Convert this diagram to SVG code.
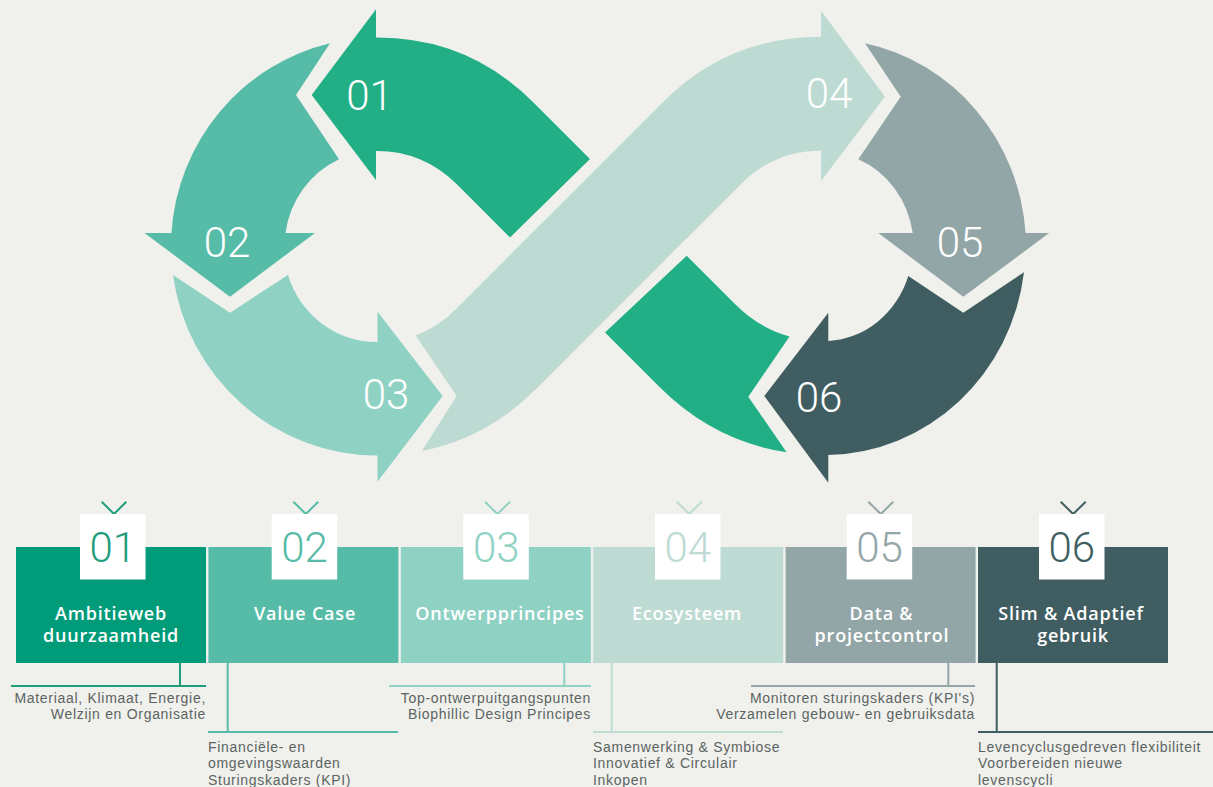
<svg xmlns="http://www.w3.org/2000/svg" width="1213" height="787" viewBox="0 0 1213 787">
<style>
.lbl{font-family:Roboto,"Open Sans",sans-serif;font-weight:300;font-size:42px;fill:#fff;text-anchor:middle}
.num{font-family:Roboto,"Open Sans",sans-serif;font-weight:300;font-size:42px;text-anchor:middle}
.ttl{font-family:"Open Sans","Noto Sans",sans-serif;font-weight:600;font-size:18px;fill:#fff;text-anchor:middle;letter-spacing:0.8px}
.dsc{font-family:"Liberation Sans",Arial,sans-serif;font-size:14px;fill:#5b6463;letter-spacing:0.7px}
.end{text-anchor:end}
.sq{fill:#fff}
.chev{fill:none;stroke-width:2}
.ln{fill:none;stroke-width:2}
</style>
<rect width="1213" height="787" fill="#f0f0ec"/>

<g id="infinity">
  <g id="arrow-01">
    <path fill="#23af86" d="M311.7,95 L376,9.3 L376,37.5 L377,37.5 Q468.5,37.5 533.2,102.2 L590,159 L510,237.5 L457.1,184.6 Q423.5,151 377,151 L376,151 L376,180 Z"/>
    <path fill="#23af86" d="M686.7,255.7 L735.2,304.2 Q759.1,328.1 789.5,336.5 L748.3,396.7 L786.6,452.3 Q713.9,441.4 659.3,386.8 L605,332.5 Z"/>
    <text class="lbl" x="369.5" y="110">01</text>
  </g>
  <g id="arrow-02">
    <path fill="#56bca7" d="M330,43.3 L296,95 L339,159.3 A93 95.5 0 0 0 285.5,233 L315,233 L230,296.7 L144.5,233 L171.4,233 A206.5 209 0 0 1 330,43.3 Z"/>
    <text class="lbl" x="227" y="257">02</text>
  </g>
  <g id="arrow-03">
    <path fill="#8fd2c4" d="M173,275 L230,312.7 L288,275 A93 95.5 0 0 0 377.5,342 L377.5,311.7 L442.7,396 L377.5,481.7 L377.5,455.5 A206.5 209 0 0 1 173,275 Z"/>
    <text class="lbl" x="386" y="409">03</text>
  </g>
  <g id="arrow-04">
    <path fill="#bddbd3" d="M415.6,335.4 Q437.6,327.4 455.5,309.5 L662.8,102.2 Q728.3,36.7 821,36.7 L821,10.7 L885,96.7 L821,181 L821,150.7 Q774.3,150.7 741.3,183.7 L535.8,389.2 Q486.5,438.5 421.8,450.9 L456.7,396 Z"/>
    <text class="lbl" x="829" y="108">04</text>
  </g>
  <g id="arrow-05">
    <path fill="#93a6a7" d="M865,43.3 L900.7,96.7 L858.3,159.3 A89 95 0 0 1 912.7,233 L878.3,233 L963.3,296.7 L1049.3,233 L1025.6,233 A201.5 209 0 0 0 865,43.3 Z"/>
    <text class="lbl" x="960" y="257">05</text>
  </g>
  <g id="arrow-06">
    <path fill="#405e61" d="M1024,272.3 L963.3,312.7 L908.3,276 A89 95 0 0 1 828.3,341 L828.3,312.7 L764.3,396 L828.3,482.7 L828.3,455 A201.5 209 0 0 0 1024,272.3 Z"/>
    <text class="lbl" x="819" y="412">06</text>
  </g>
</g>

<g id="connectors">
  <path class="ln" stroke="#1f9d7b" d="M180,663 V686 M11,686 H206"/>
  <path class="ln" stroke="#56bca7" d="M227.7,663 V732 M208,732 H398"/>
  <path class="ln" stroke="#8fd2c4" d="M564.3,663 V686 M389,686 H591"/>
  <path class="ln" stroke="#bddbd3" d="M611.7,663 V732 M593,732 H783"/>
  <path class="ln" stroke="#93a6a7" d="M948.3,663 V686 M751,686 H975"/>
  <path class="ln" stroke="#405e61" d="M996.7,663 V732 M978,732 H1213"/>
</g>

<g id="node-01">
  <rect x="16" y="547" width="190" height="116" fill="#009b78"/>
  <polyline class="chev" stroke="#1f9d7b" points="101.7,501.7 114,514 126.3,501.7"/>
  <rect class="sq" x="80" y="514" width="65.5" height="65.5"/>
  <text class="num" x="112.7" y="562" fill="#1f9d7b">01</text>
  <text class="ttl" x="111" y="620">Ambitieweb</text>
  <text class="ttl" x="111" y="641.7">duurzaamheid</text>
  <text class="dsc end" x="206" y="702.7">Materiaal, Klimaat, Energie,</text>
  <text class="dsc end" x="206" y="719.3">Welzijn en Organisatie</text>
</g>
<g id="node-02">
  <rect x="208.4" y="547" width="190" height="116" fill="#56bca7"/>
  <polyline class="chev" stroke="#56bca7" points="293.3,501.7 305.8,514 318.3,501.7"/>
  <rect class="sq" x="271.7" y="514" width="65.5" height="65.5"/>
  <text class="num" x="304.5" y="562" fill="#56bca7">02</text>
  <text class="ttl" x="305" y="620">Value Case</text>
  <text class="dsc" x="208" y="751.7">Financiële- en</text>
  <text class="dsc" x="208" y="768.3">omgevingswaarden</text>
  <text class="dsc" x="208" y="784.5">Sturingskaders (KPI)</text>
</g>
<g id="node-03">
  <rect x="400.8" y="547" width="190" height="116" fill="#8fd2c4"/>
  <polyline class="chev" stroke="#8fd2c4" points="485,501.7 497.5,514 510,501.7"/>
  <rect class="sq" x="463.3" y="514" width="65.5" height="65.5"/>
  <text class="num" x="496.2" y="562" fill="#8fd2c4">03</text>
  <text class="ttl" x="500" y="620">Ontwerpprincipes</text>
  <text class="dsc end" x="591" y="702.7">Top-ontwerpuitgangspunten</text>
  <text class="dsc end" x="591" y="719.3">Biophillic Design Principes</text>
</g>
<g id="node-04">
  <rect x="593.2" y="547" width="190" height="116" fill="#bddbd3"/>
  <polyline class="chev" stroke="#bddbd3" points="676.7,501.7 689.2,514 701.7,501.7"/>
  <rect class="sq" x="655" y="514" width="65.5" height="65.5"/>
  <text class="num" x="687.8" y="562" fill="#bddbd3">04</text>
  <text class="ttl" x="687" y="620">Ecosysteem</text>
  <text class="dsc" x="593" y="751.7">Samenwerking &amp; Symbiose</text>
  <text class="dsc" x="593" y="768.3">Innovatief &amp; Circulair</text>
  <text class="dsc" x="593" y="784.5">Inkopen</text>
</g>
<g id="node-05">
  <rect x="785.6" y="547" width="190" height="116" fill="#93a6a7"/>
  <polyline class="chev" stroke="#93a6a7" points="868.3,501.7 880.8,514 893.3,501.7"/>
  <rect class="sq" x="846.7" y="514" width="65.5" height="65.5"/>
  <text class="num" x="879.5" y="562" fill="#93a6a7">05</text>
  <text class="ttl" x="881.5" y="620">Data &amp;</text>
  <text class="ttl" x="882" y="641.7">projectcontrol</text>
  <text class="dsc end" x="975" y="702.7">Monitoren sturingskaders (KPI's)</text>
  <text class="dsc end" x="975" y="719.3">Verzamelen gebouw- en gebruiksdata</text>
</g>
<g id="node-06">
  <rect x="978" y="547" width="190" height="116" fill="#405e61"/>
  <polyline class="chev" stroke="#405e61" points="1060.7,501.7 1073.2,514 1085.7,501.7"/>
  <rect class="sq" x="1039" y="514" width="65.5" height="65.5"/>
  <text class="num" x="1071.7" y="562" fill="#405e61">06</text>
  <text class="ttl" x="1071" y="620">Slim &amp; Adaptief</text>
  <text class="ttl" x="1073" y="641.7">gebruik</text>
  <text class="dsc" x="978" y="751.7">Levencyclusgedreven flexibiliteit</text>
  <text class="dsc" x="978" y="768.3">Voorbereiden nieuwe</text>
  <text class="dsc" x="978" y="784.5">levenscycli</text>
</g>
</svg>
